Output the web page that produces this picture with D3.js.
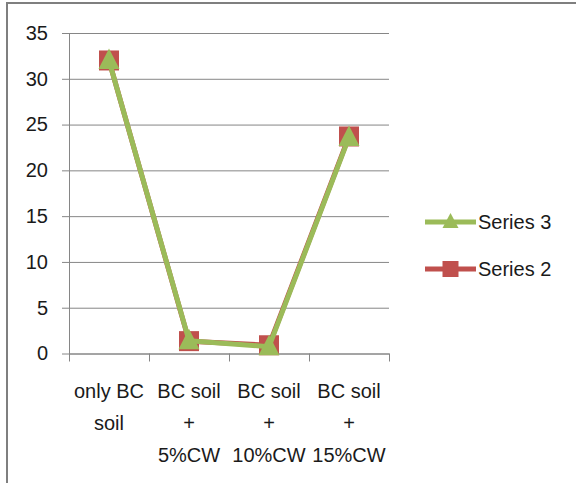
<!DOCTYPE html>
<html>
<head>
<meta charset="utf-8">
<script src="https://cdn.jsdelivr.net/npm/d3@7"></script>
<style>
  body { margin: 0; background: #fff; }
  text { font-family: "Liberation Sans", Arial, sans-serif; fill: #1a1a1a; }
</style>
</head>
<body>
<div id="main"></div>
<script>
// chart values
var categories = [["only BC", "soil"], ["BC soil", "+", "5%CW"], ["BC soil", "+", "10%CW"], ["BC soil", "+", "15%CW"]];
var series2 = [32.0, 1.35, 0.9, 23.7];
var series3 = [32.0, 1.4, 0.75, 23.6];
var yTicks = [0, 5, 10, 15, 20, 25, 30, 35];
var legendNames = ["Series 3", "Series 2"];

var ctx = {
    w: 576,
    h: 483,
    left: 69,
    right: 389,
    top: 33,
    bottom: 353.5,
    green: "#9bbb59",
    red: "#c0504d",
    grid: "#868686",
};

var drawChart = function(){
    var svg = d3.select("#main").append("svg")
                .attr("width", ctx.w)
                .attr("height", ctx.h);
    svg.append("rect").attr("width", ctx.w).attr("height", ctx.h).attr("fill", "#fff");

    // frame (only top and left edges are visible)
    svg.append("path")
       .attr("d", "M7," + ctx.h + "V3H" + ctx.w)
       .attr("fill", "none")
       .attr("stroke", "#7f7f7f")
       .attr("stroke-width", 2);

    var idx = d3.range(categories.length);
    ctx.x = d3.scaleBand().domain(idx).range([ctx.left, ctx.right]);
    ctx.edge = d3.scaleLinear().domain([0, categories.length]).range([ctx.left, ctx.right]);
    ctx.y = d3.scaleLinear().domain([0, 35]).range([ctx.bottom, ctx.top]);

    // horizontal gridlines, with the little outer tick on the left
    svg.append("g")
       .attr("transform", "translate(62,0)")
       .call(d3.axisRight(ctx.y).tickValues(yTicks).tickSize(ctx.right - 62).tickFormat(""))
       .call(function(g){ g.select(".domain").remove(); })
       .selectAll("line").attr("stroke", ctx.grid);

    // y axis
    var yAx = svg.append("g")
       .attr("transform", "translate(" + ctx.left + ",0)")
       .call(d3.axisLeft(ctx.y).tickValues(yTicks).tickSize(0).tickPadding(21).tickSizeOuter(0));
    yAx.select(".domain").attr("stroke", ctx.grid);
    yAx.selectAll("text").style("font-size", "20px").attr("fill", "#1a1a1a");

    // x axis, ticks sit on the category boundaries
    var xAx = svg.append("g")
       .attr("transform", "translate(0," + ctx.bottom + ")")
       .call(d3.axisBottom(ctx.edge).tickValues(d3.range(categories.length + 1)).tickSize(8).tickFormat("").tickSizeOuter(0));
    xAx.select(".domain").attr("stroke", ctx.grid);
    xAx.selectAll("line").attr("stroke", ctx.grid);

    // category labels
    svg.append("g").selectAll("text")
       .data(categories)
       .join("text")
       .attr("text-anchor", "middle")
       .style("font-size", "20px")
       .each(function(d, i){
           d3.select(this).selectAll("tspan")
             .data(d)
             .join("tspan")
             .attr("x", ctx.x(i) + ctx.x.bandwidth()/2)
             .attr("y", function(s, j){ return 398 + j*32; })
             .text(function(s){ return s; });
       });

    var line = d3.line()
                 .x(function(d, i){ return ctx.x(i) + ctx.x.bandwidth()/2; })
                 .y(function(d){ return ctx.y(d); });

    // series 2 (red squares)
    svg.append("path")
       .attr("d", line(series2))
       .attr("fill", "none")
       .attr("stroke", ctx.red)
       .attr("stroke-width", 5)
       .attr("stroke-linejoin", "round");
    svg.append("g").selectAll("rect")
       .data(series2)
       .join("rect")
       .attr("x", function(d, i){ return ctx.x(i) + ctx.x.bandwidth()/2 - 10; })
       .attr("y", function(d){ return ctx.y(d) - 10; })
       .attr("width", 20)
       .attr("height", 20)
       .attr("fill", ctx.red);

    // series 3 (green triangles) on top
    svg.append("path")
       .attr("d", line(series3))
       .attr("fill", "none")
       .attr("stroke", ctx.green)
       .attr("stroke-width", 5)
       .attr("stroke-linejoin", "round");
    var tri = "M0,-12L10.5,8.5L-10.5,8.5Z";
    svg.append("g").selectAll("path")
       .data(series3)
       .join("path")
       .attr("d", tri)
       .attr("transform", function(d, i){
           return "translate(" + (ctx.x(i) + ctx.x.bandwidth()/2) + "," + ctx.y(d) + ")";
       })
       .attr("fill", ctx.green);

    // legend
    var lg = svg.append("g").selectAll("g")
       .data(legendNames)
       .join("g")
       .attr("transform", function(d, i){ return "translate(425," + (222 + i*47) + ")"; });
    lg.append("line")
      .attr("x1", 0).attr("x2", 51)
      .attr("stroke", function(d, i){ return i == 0 ? ctx.green : ctx.red; })
      .attr("stroke-width", 5);
    lg.append("path")
      .attr("d", function(d, i){ return i == 0 ? "M0,-9L8,6L-8,6Z" : "M-8,-8H8V8H-8Z"; })
      .attr("transform", "translate(25.5,0)")
      .attr("fill", function(d, i){ return i == 0 ? ctx.green : ctx.red; });
    lg.append("text")
      .attr("x", 53)
      .attr("dy", "0.35em")
      .style("font-size", "20px")
      .text(function(d){ return d; });
};

drawChart();
</script>
</body>
</html>
